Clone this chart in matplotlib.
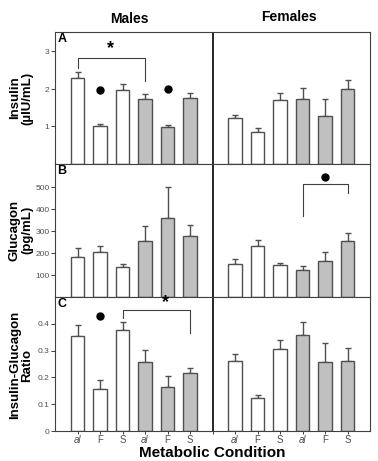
import numpy as np
import matplotlib
matplotlib.use('Agg')
import matplotlib.pyplot as plt

plt.rcParams['font.family'] = ['Liberation Sans', 'DejaVu Sans']

# bar positions: males left of the divider, females right of it
male_x = [0, 1, 2, 3, 4, 5]
female_x = [7, 8, 9, 10, 11, 12]
cond_labels = ['al', 'F', 'S', 'al', 'F', 'S']
# first three bars open, last three grey
bar_fill = ['white', 'white', 'white', '#c0c0c0', '#c0c0c0', '#c0c0c0']

# A: insulin (uIU/mL)
ins_m = [2.29, 1.01, 1.97, 1.73, 0.99, 1.76]
ins_m_err = [0.16, 0.06, 0.16, 0.14, 0.06, 0.13]
ins_f = [1.23, 0.86, 1.71, 1.74, 1.27, 2.01]
ins_f_err = [0.08, 0.10, 0.19, 0.29, 0.47, 0.22]

# B: glucagon (pg/mL)
glu_m = [183, 203, 138, 255, 359, 279]
glu_m_err = [38, 30, 12, 68, 140, 50]
glu_f = [150, 231, 145, 124, 164, 253]
glu_f_err = [25, 30, 9, 15, 40, 38]

# C: insulin-glucagon ratio
rat_m = [0.356, 0.156, 0.378, 0.256, 0.166, 0.216]
rat_m_err = [0.040, 0.033, 0.027, 0.046, 0.040, 0.020]
rat_f = [0.262, 0.122, 0.307, 0.360, 0.257, 0.260]
rat_f_err = [0.026, 0.013, 0.034, 0.045, 0.073, 0.051]

edge = '#505050'

fig = plt.figure(figsize=(3.78, 4.61), dpi=100)
L, R = 55 / 378, 370 / 378
rows = [(32, 164), (164, 297), (297, 431)]
axes = []
for top, bot in rows:
    ax = fig.add_axes([L, 1 - bot / 461, R - L, (bot - top) / 461])
    axes.append(ax)


def draw_bars(ax, vals_m, err_m, vals_f, err_f):
    for xs, vals, errs in [(male_x, vals_m, err_m), (female_x, vals_f, err_f)]:
        ax.bar(xs, vals, width=0.6, color=bar_fill, edgecolor=edge, linewidth=1, zorder=2)
        ax.errorbar(xs, vals, yerr=[np.zeros(len(errs)), errs], fmt='none',
                    ecolor=edge, elinewidth=1, capsize=2.2, capthick=1, zorder=1)
    ax.set_xlim(-1, 13)
    ax.axvline(6, color='black', lw=1.2)
    for s in ax.spines.values():
        s.set_color('#404040')
        s.set_linewidth(0.8)
    ax.tick_params(axis='y', labelsize=6, length=3, width=0.7,
                   colors='#404040', labelcolor='#505050', pad=1)


# Panel A
ax = axes[0]
draw_bars(ax, ins_m, ins_m_err, ins_f, ins_f_err)
ax.set_ylim(0, 3.52)
ax.set_yticks([1, 2, 3])
ax.set_xticks([])
ax.plot([0, 0, 3, 3], [2.55, 2.82, 2.82, 2.21], color='#404040', lw=0.8)
ax.text(1.45, 2.84, '*', ha='center', va='bottom', fontsize=13, fontweight='bold')
ax.plot([1, 4], [1.98, 2.0], 'o', color='black', ms=5)
ax.text(2.3, 1.045, 'Males', transform=ax.get_xaxis_transform(), ha='center',
        va='bottom', fontsize=10, fontweight='bold')
ax.text(9.4, 1.06, 'Females', transform=ax.get_xaxis_transform(), ha='center',
        va='bottom', fontsize=10, fontweight='bold')

# Panel B
ax = axes[1]
draw_bars(ax, glu_m, glu_m_err, glu_f, glu_f_err)
ax.set_ylim(0, 605)
ax.set_yticks([100, 200, 300, 400, 500])
ax.set_xticks([])
ax.plot([10, 10, 12, 12], [368, 512, 512, 473], color='#404040', lw=0.8)
ax.plot([11], [545], 'o', color='black', ms=5)

# Panel C
ax = axes[2]
draw_bars(ax, rat_m, rat_m_err, rat_f, rat_f_err)
ax.set_ylim(0, 0.5)
ax.set_yticks([0, 0.1, 0.2, 0.3, 0.4])
ax.set_yticklabels(['0', '0.1', '0.2', '0.3', '0.4'])
ax.set_xticks(male_x + [6] + female_x)
ax.set_xticklabels(cond_labels + [''] + cond_labels)
ax.tick_params(axis='x', labelsize=7, length=2, width=0.7, colors='#404040',
               labelcolor='#505050', pad=1)
for t in ax.get_xticklabels():
    if t.get_text() == 'al':
        t.set_style('italic')
ax.plot([2, 2, 5, 5], [0.42, 0.452, 0.452, 0.366], color='#404040', lw=0.8)
ax.text(3.9, 0.447, '*', ha='center', va='bottom', fontsize=13, fontweight='bold')
ax.plot([1], [0.43], 'o', color='black', ms=5)

# panel letters
for ax, letter in zip(axes, ['A', 'B', 'C']):
    ax.text(0.008, 0.99, letter, transform=ax.transAxes, ha='left', va='top',
            fontsize=9, fontweight='bold')

# y labels
fig.text(21 / 378, 1 - 98 / 461, 'Insulin\n(\u00b5IU/mL)', rotation=90, ha='center',
         va='center', fontsize=9.5, fontweight='bold', linespacing=1.05)
fig.text(21 / 378, 1 - 230 / 461, 'Glucagon\n(pg/mL)', rotation=90, ha='center',
         va='center', fontsize=9.5, fontweight='bold', linespacing=1.05)
fig.text(21 / 378, 1 - 365 / 461, 'Insulin-Glucagon\nRatio', rotation=90, ha='center',
         va='center', fontsize=9.5, fontweight='bold', linespacing=1.05)

fig.text(212 / 378, 1 - 453 / 461, 'Metabolic Condition', ha='center', va='center',
         fontsize=11, fontweight='bold')

fig.savefig('out.png', dpi=100)
